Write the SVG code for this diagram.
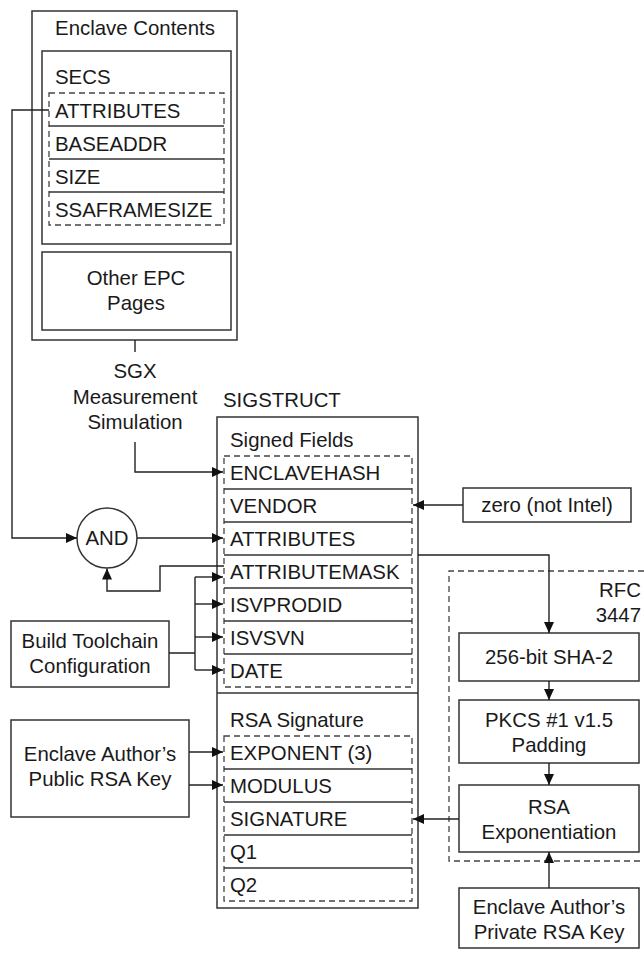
<svg xmlns="http://www.w3.org/2000/svg" width="644" height="954" viewBox="0 0 644 954">
<defs>
<marker id="arr" markerUnits="userSpaceOnUse" markerWidth="12" markerHeight="10" refX="11" refY="5" orient="auto">
<path d="M0,0 L11,5 L0,10 Z" fill="#111"/>
</marker>
<style>
text{font-family:"Liberation Sans",Arial,Helvetica,sans-serif;font-size:20.4px;fill:#1a1a1a}
.c{text-anchor:middle}
.e{text-anchor:end}
.box{fill:none;stroke:#333;stroke-width:1.5}
.dash{fill:none;stroke:#444;stroke-width:1.3;stroke-dasharray:6,4}
.div{stroke:#333;stroke-width:1.3}
.ln{fill:none;stroke:#222;stroke-width:1.4}
.ar{fill:none;stroke:#222;stroke-width:1.4;marker-end:url(#arr)}
</style>
</defs>
<rect width="644" height="954" fill="#fff"/>

<g id="enclave-contents">
<rect class="box" x="32" y="11" width="205" height="329"/>
<text class="c" x="135" y="35">Enclave Contents</text>
</g>
<g id="secs">
<rect class="box" x="42" y="51" width="189" height="193"/>
<text x="55" y="84">SECS</text>
<rect class="dash" x="49" y="93" width="175" height="132"/>
<line class="div" x1="49" y1="126" x2="224" y2="126"/>
<line class="div" x1="49" y1="159" x2="224" y2="159"/>
<line class="div" x1="49" y1="192" x2="224" y2="192"/>
<text x="55" y="118">ATTRIBUTES</text>
<text x="55" y="151">BASEADDR</text>
<text x="55" y="184">SIZE</text>
<text x="55" y="217">SSAFRAMESIZE</text>
</g>
<g id="other-epc">
<rect class="box" x="42" y="252" width="189" height="78"/>
<text class="c" x="136" y="285">Other EPC</text>
<text class="c" x="136" y="310">Pages</text>
</g>
<g id="sgx-measurement">
<text class="c" x="135" y="378">SGX</text>
<text class="c" x="135" y="404">Measurement</text>
<text class="c" x="135" y="429">Simulation</text>
</g>
<g id="and">
<circle cx="107" cy="538" r="30" fill="none" stroke="#333" stroke-width="1.5"/>
<text class="c" x="107" y="545">AND</text>
</g>
<g id="sigstruct">
<text x="223" y="407">SIGSTRUCT</text>
<rect class="box" x="217" y="417" width="201" height="491"/>
<line class="box" x1="217" y1="693" x2="418" y2="693"/>
<text x="230" y="447">Signed Fields</text>
<rect class="dash" x="224" y="456" width="188" height="231"/>
<line class="div" x1="224" y1="489" x2="412" y2="489"/>
<line class="div" x1="224" y1="522" x2="412" y2="522"/>
<line class="div" x1="224" y1="555" x2="412" y2="555"/>
<line class="div" x1="224" y1="588" x2="412" y2="588"/>
<line class="div" x1="224" y1="621" x2="412" y2="621"/>
<line class="div" x1="224" y1="654" x2="412" y2="654"/>
<text x="230" y="480">ENCLAVEHASH</text>
<text x="230" y="513">VENDOR</text>
<text x="230" y="546">ATTRIBUTES</text>
<text x="230" y="579">ATTRIBUTEMASK</text>
<text x="230" y="612">ISVPRODID</text>
<text x="230" y="645">ISVSVN</text>
<text x="230" y="678">DATE</text>
<text x="230" y="727">RSA Signature</text>
<rect class="dash" x="224" y="736" width="188" height="165"/>
<line class="div" x1="224" y1="769" x2="412" y2="769"/>
<line class="div" x1="224" y1="802" x2="412" y2="802"/>
<line class="div" x1="224" y1="835" x2="412" y2="835"/>
<line class="div" x1="224" y1="868" x2="412" y2="868"/>
<text x="230" y="760">EXPONENT (3)</text>
<text x="230" y="793">MODULUS</text>
<text x="230" y="826">SIGNATURE</text>
<text x="230" y="859">Q1</text>
<text x="230" y="892">Q2</text>
</g>
<g id="build-toolchain">
<rect class="box" x="11" y="621" width="158" height="66"/>
<text class="c" x="90" y="648">Build Toolchain</text>
<text class="c" x="90" y="673">Configuration</text>
</g>
<g id="public-key">
<rect class="box" x="11" y="720" width="178" height="97"/>
<text class="c" x="100" y="761">Enclave Author’s</text>
<text class="c" x="100" y="786">Public RSA Key</text>
</g>
<g id="zero">
<rect class="box" x="463" y="488" width="168" height="34"/>
<text class="c" x="547" y="512">zero (not Intel)</text>
</g>
<g id="rfc3447">
<path class="dash" d="M644,571 H449 V861 H644"/>
<text class="e" x="641" y="597">RFC</text>
<text class="e" x="641" y="622">3447</text>
</g>
<g id="sha2">
<rect class="box" x="459" y="633" width="180" height="48"/>
<text class="c" x="549" y="664">256-bit SHA-2</text>
</g>
<g id="pkcs">
<rect class="box" x="459" y="700" width="180" height="63"/>
<text class="c" x="549" y="727">PKCS #1 v1.5</text>
<text class="c" x="549" y="752">Padding</text>
</g>
<g id="rsa-exp">
<rect class="box" x="459" y="785" width="180" height="67"/>
<text class="c" x="549" y="814">RSA</text>
<text class="c" x="549" y="839">Exponentiation</text>
</g>
<g id="private-key">
<rect class="box" x="459" y="888" width="180" height="60"/>
<text class="c" x="549" y="914">Enclave Author’s</text>
<text class="c" x="549" y="939">Private RSA Key</text>
</g>

<g id="connectors">
<path class="ar" d="M49,110 H12 V538 H77"/>
<path class="ar" d="M137,538 H223"/>
<path class="ar" d="M224,566 H160 V591 H107 V568.5"/>
<path class="ln" d="M135,340 V352"/>
<path class="ar" d="M135,442 V472 H223"/>
<path class="ln" d="M169,653 H195 M195,577 V670"/>
<path class="ar" d="M195,577 H223"/>
<path class="ar" d="M195,604 H223"/>
<path class="ar" d="M195,637 H223"/>
<path class="ar" d="M195,670 H223"/>
<path class="ar" d="M189,752 H223"/>
<path class="ar" d="M189,785 H223"/>
<path class="ar" d="M463,505 H413"/>
<path class="ar" d="M418,555 H549 V633"/>
<path class="ar" d="M549,681 V700"/>
<path class="ar" d="M549,763 V785"/>
<path class="ar" d="M459,819 H413"/>
<path class="ar" d="M549,888 V852"/>
</g>
</svg>
